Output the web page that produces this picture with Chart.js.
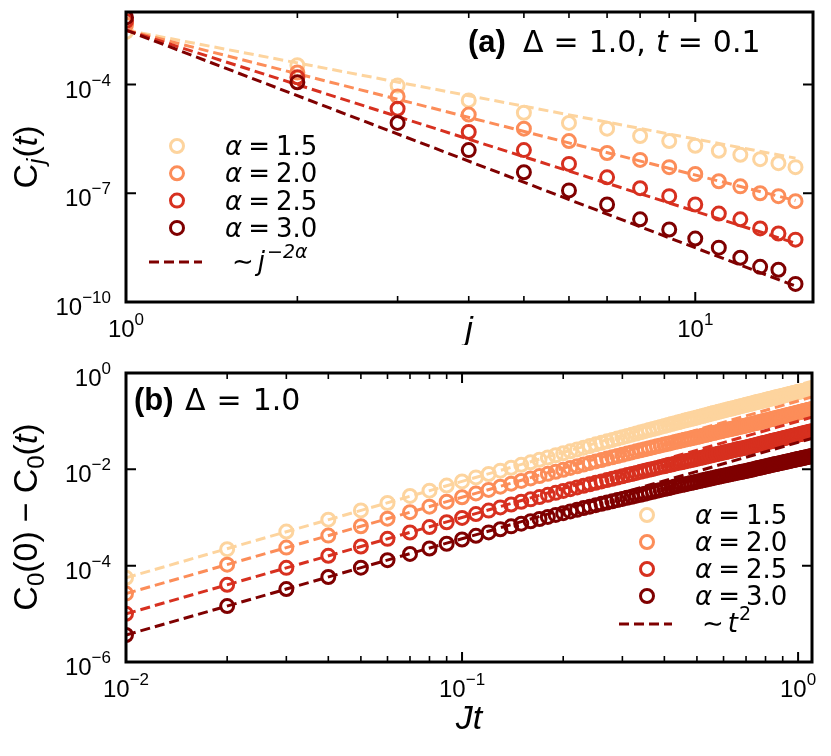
<!DOCTYPE html>
<html>
<head>
<meta charset="utf-8">
<script src="https://cdn.jsdelivr.net/npm/chart.js@4.4.1/dist/chart.umd.min.js"></script>
<style>
    html, body { margin: 0; padding: 0; background: #fff; }
    #wrap { position: relative; width: 831px; height: 756px; }
    #wrap canvas { position: absolute; left: 0; }
</style>
</head>
<body>
<div id="wrap">
    <canvas id="chartA" width="831" height="345" style="top:0;width:831px;height:345px"></canvas>
    <canvas id="chartB" width="831" height="411" style="top:345px;width:831px;height:411px"></canvas>
</div>
<script>
const seriesColors = ['#fdd49e', '#fc8d59', '#d7301f', '#7f0000'];
const alphaLabels = ['1.5', '2.0', '2.5', '3.0'];

// Panel (a): C_j(t) against site distance j
const siteJ = [1, 2, 3, 4, 5, 6, 7, 8, 9, 10, 11, 12, 13, 14, 15];
const corrA15 = [2.82e-3, 3.39e-4, 9.33e-5, 3.63e-5, 1.66e-5, 8.71e-6, 6.03e-6, 3.80e-6, 2.75e-6, 2.04e-6, 1.48e-6, 1.15e-6, 8.71e-7, 6.76e-7, 5.25e-7];
const corrA20 = [4.47e-3, 2.14e-4, 4.68e-5, 1.48e-5, 6.03e-6, 2.75e-6, 1.29e-6, 8.32e-7, 5.25e-7, 3.39e-7, 2.14e-7, 1.55e-7, 1.00e-7, 8.32e-8, 6.03e-8];
const corrA25 = [5.62e-3, 1.58e-4, 2.14e-5, 4.90e-6, 1.55e-6, 6.46e-7, 2.75e-7, 1.38e-7, 8.32e-8, 4.90e-8, 2.75e-8, 1.91e-8, 1.07e-8, 7.76e-9, 5.25e-9];
const corrA30 = [7.08e-3, 1.15e-4, 8.71e-6, 1.55e-6, 3.80e-7, 1.20e-7, 4.90e-8, 1.91e-8, 1.00e-8, 5.62e-9, 3.16e-9, 1.66e-9, 9.33e-10, 7.76e-10, 3.16e-10];
const fitJ = [1, 15];
const fitA15 = [3.16e-3, 9.3e-7];
const fitA20 = [3.16e-3, 6.3e-8];
const fitA25 = [3.16e-3, 4.2e-9];
const fitA30 = [3.16e-3, 2.75e-10];

// Panel (b): C_0(0) - C_0(t) against Jt
const timeT = [
    0.01, 0.02, 0.03, 0.04, 0.05, 0.06, 0.07, 0.08, 0.09, 0.10,
    0.11, 0.12, 0.13, 0.14, 0.15, 0.16, 0.17, 0.18, 0.19, 0.20,
    0.21, 0.22, 0.23, 0.24, 0.25, 0.26, 0.27, 0.28, 0.29, 0.30,
    0.31, 0.32, 0.33, 0.34, 0.35, 0.36, 0.37, 0.38, 0.39, 0.40,
    0.41, 0.42, 0.43, 0.44, 0.45, 0.46, 0.47, 0.48, 0.49, 0.50,
    0.51, 0.52, 0.53, 0.54, 0.55, 0.56, 0.57, 0.58, 0.59, 0.60,
    0.61, 0.62, 0.63, 0.64, 0.65, 0.66, 0.67, 0.68, 0.69, 0.70,
    0.71, 0.72, 0.73, 0.74, 0.75, 0.76, 0.77, 0.78, 0.79, 0.80,
    0.81, 0.82, 0.83, 0.84, 0.85, 0.86, 0.87, 0.88, 0.89, 0.90,
    0.91, 0.92, 0.93, 0.94, 0.95, 0.96, 0.97, 0.98, 0.99, 1.00,
    1.01, 1.02, 1.03, 1.04, 1.05, 1.06, 1.07, 1.08, 1.09, 1.10
];
const decayB15 = [
    5.6e-5, 2.2e-4, 5.1e-4, 9.0e-4, 1.4e-3, 2.0e-3, 2.8e-3, 3.6e-3, 4.6e-3, 5.6e-3,
    6.8e-3, 8.0e-3, 9.4e-3, 0.0108, 0.0124, 0.0140, 0.0158, 0.0176, 0.0196, 0.0216,
    0.0237, 0.0259, 0.0282, 0.0305, 0.0330, 0.0355, 0.0381, 0.0408, 0.0436, 0.0465,
    0.0494, 0.0524, 0.0555, 0.0587, 0.0620, 0.0653, 0.0687, 0.0722, 0.0758, 0.0794,
    0.0831, 0.0869, 0.0907, 0.0947, 0.0987, 0.103, 0.107, 0.111, 0.115, 0.119,
    0.124, 0.128, 0.133, 0.137, 0.142, 0.147, 0.151, 0.156, 0.161, 0.166,
    0.171, 0.176, 0.181, 0.186, 0.191, 0.196, 0.202, 0.207, 0.212, 0.218,
    0.223, 0.229, 0.234, 0.240, 0.246, 0.252, 0.257, 0.263, 0.269, 0.275,
    0.281, 0.287, 0.293, 0.299, 0.306, 0.312, 0.318, 0.324, 0.331, 0.337,
    0.343, 0.350, 0.356, 0.363, 0.369, 0.376, 0.382, 0.389, 0.395, 0.402,
    0.409, 0.415, 0.422, 0.429, 0.435, 0.442, 0.449, 0.456, 0.462, 0.469
];
const decayB20 = [
    2.63e-5, 1.05e-4, 2.37e-4, 4.21e-4, 6.58e-4, 9.47e-4, 1.29e-3, 1.68e-3, 2.13e-3, 2.63e-3,
    3.16e-3, 3.74e-3, 4.36e-3, 5.03e-3, 5.74e-3, 6.48e-3, 7.25e-3, 8.06e-3, 8.91e-3, 9.78e-3,
    0.0107, 0.0116, 0.0126, 0.0136, 0.0146, 0.0156, 0.0167, 0.0178, 0.0189, 0.0201,
    0.0212, 0.0224, 0.0236, 0.0249, 0.0261, 0.0274, 0.0287, 0.0300, 0.0313, 0.0327,
    0.0340, 0.0354, 0.0368, 0.0382, 0.0396, 0.0410, 0.0424, 0.0438, 0.0453, 0.0467,
    0.0483, 0.0499, 0.0516, 0.0532, 0.0549, 0.0566, 0.0583, 0.0600, 0.0617, 0.0634,
    0.0652, 0.0669, 0.0687, 0.0705, 0.0722, 0.0740, 0.0758, 0.0776, 0.0794, 0.0812,
    0.0833, 0.0854, 0.0875, 0.0896, 0.0917, 0.0939, 0.0961, 0.0983, 0.1005, 0.1027,
    0.1049, 0.1072, 0.1094, 0.1117, 0.1140, 0.1163, 0.1186, 0.1210, 0.1233, 0.1257,
    0.1282, 0.1307, 0.1332, 0.1357, 0.1383, 0.1408, 0.1434, 0.1460, 0.1486, 0.1512,
    0.1539, 0.1565, 0.1592, 0.1619, 0.1646, 0.1673, 0.1700, 0.1727, 0.1755, 0.1782
];
const decayB25 = [
    1.0e-5, 4.0e-5, 9.0e-5, 1.6e-4, 2.5e-4, 3.6e-4, 4.88e-4, 6.34e-4, 7.98e-4, 9.8e-4,
    1.18e-3, 1.39e-3, 1.62e-3, 1.86e-3, 2.12e-3, 2.38e-3, 2.66e-3, 2.95e-3, 3.25e-3, 3.56e-3,
    3.88e-3, 4.21e-3, 4.55e-3, 4.90e-3, 5.25e-3, 5.61e-3, 5.98e-3, 6.37e-3, 6.77e-3, 7.18e-3,
    7.59e-3, 8.01e-3, 8.44e-3, 8.87e-3, 9.31e-3, 9.76e-3, 0.0102, 0.0107, 0.0112, 0.0116,
    0.0121, 0.0126, 0.0131, 0.0136, 0.0140, 0.0145, 0.0150, 0.0155, 0.0160, 0.0165,
    0.0171, 0.0176, 0.0182, 0.0188, 0.0194, 0.0199, 0.0205, 0.0211, 0.0217, 0.0223,
    0.0229, 0.0235, 0.0241, 0.0247, 0.0254, 0.0260, 0.0266, 0.0272, 0.0278, 0.0284,
    0.0291, 0.0299, 0.0306, 0.0313, 0.0321, 0.0328, 0.0336, 0.0343, 0.0351, 0.0358,
    0.0366, 0.0374, 0.0382, 0.0390, 0.0397, 0.0405, 0.0413, 0.0421, 0.0429, 0.0437,
    0.0446, 0.0455, 0.0463, 0.0472, 0.0481, 0.0489, 0.0498, 0.0507, 0.0516, 0.0525,
    0.0534, 0.0543, 0.0552, 0.0561, 0.0571, 0.0580, 0.0589, 0.0598, 0.0608, 0.0617
];
const decayB30 = [
    3.63e-6, 1.45e-5, 3.27e-5, 5.81e-5, 9.08e-5, 1.30e-4, 1.75e-4, 2.27e-4, 2.85e-4, 3.49e-4,
    4.17e-4, 4.91e-4, 5.71e-4, 6.55e-4, 7.43e-4, 8.35e-4, 9.30e-4, 1.03e-3, 1.13e-3, 1.23e-3,
    1.34e-3, 1.45e-3, 1.57e-3, 1.68e-3, 1.80e-3, 1.92e-3, 2.04e-3, 2.17e-3, 2.30e-3, 2.43e-3,
    2.56e-3, 2.70e-3, 2.84e-3, 2.97e-3, 3.11e-3, 3.27e-3, 3.42e-3, 3.58e-3, 3.73e-3, 3.89e-3,
    4.05e-3, 4.21e-3, 4.38e-3, 4.54e-3, 4.71e-3, 4.87e-3, 5.04e-3, 5.20e-3, 5.37e-3, 5.54e-3,
    5.72e-3, 5.90e-3, 6.08e-3, 6.27e-3, 6.45e-3, 6.64e-3, 6.82e-3, 7.01e-3, 7.20e-3, 7.38e-3,
    7.57e-3, 7.76e-3, 7.95e-3, 8.13e-3, 8.32e-3, 8.51e-3, 8.69e-3, 8.88e-3, 9.07e-3, 9.25e-3,
    9.47e-3, 9.69e-3, 9.91e-3, 0.0101, 0.0104, 0.0106, 0.0108, 0.0110, 0.0113, 0.0115,
    0.0117, 0.0120, 0.0122, 0.0124, 0.0127, 0.0129, 0.0131, 0.0134, 0.0136, 0.0138,
    0.0141, 0.0143, 0.0146, 0.0148, 0.0151, 0.0153, 0.0156, 0.0158, 0.0161, 0.0163,
    0.0166, 0.0168, 0.0171, 0.0174, 0.0176, 0.0179, 0.0181, 0.0184, 0.0186, 0.0189
];
const fitT = [0.01, 1.1];
const fitB15 = [5.62e-5, 0.68];
const fitB20 = [2.63e-5, 0.318];
const fitB25 = [1.0e-5, 0.121];
const fitB30 = [3.63e-6, 0.0439];

// Axis ticks
const aXMajor = [1, 10];
const aXMinor = [2, 3, 4, 5, 6, 7, 8, 9];
const aYMajor = [1e-10, 1e-7, 1e-4];
const bXMajor = [0.01, 0.1, 1];
const bXMinor = [0.02, 0.03, 0.04, 0.05, 0.06, 0.07, 0.08, 0.09, 0.2, 0.3, 0.4, 0.5, 0.6, 0.7, 0.8, 0.9];
const bYMajor = [1e-6, 1e-4, 1e-2, 1];

const SANS = '"Liberation Sans", Arial, sans-serif';
const DEJAVU = '"DejaVu Sans", sans-serif';
const MARK_R = 6.5;
const MARK_W = 3;
const DASH = [10, 5];

function pointSeries(xs, ys, color, order) {
    return {
        data: xs.map((x, i) => ({ x, y: ys[i] })),
        showLine: false,
        pointStyle: 'circle',
        pointRadius: MARK_R,
        pointBorderWidth: MARK_W,
        pointBorderColor: color,
        pointBackgroundColor: 'rgba(0,0,0,0)',
        clip: 0,
        order
    };
}

function fitSeries(xs, ys, color, order) {
    return {
        data: xs.map((x, i) => ({ x, y: ys[i] })),
        showLine: true,
        borderColor: color,
        borderWidth: 3,
        borderDash: DASH,
        pointRadius: 0,
        fill: false,
        clip: 0,
        order
    };
}

// Draws a row of text pieces; each piece may carry its own font and offset
function drawRuns(ctx, runs, x, y, align) {
    let width = 0;
    runs.forEach(r => {
        ctx.font = r.font;
        width += ctx.measureText(r.text).width + (r.gap || 0);
    });
    let cx = align === 'right' ? x - width : align === 'center' ? x - width / 2 : x;
    ctx.textAlign = 'left';
    ctx.textBaseline = 'alphabetic';
    runs.forEach(r => {
        ctx.font = r.font;
        ctx.fillText(r.text, cx, y + (r.dy || 0));
        cx += ctx.measureText(r.text).width + (r.gap || 0);
    });
}

function powerRuns(value) {
    const exp = Math.round(Math.log10(value));
    const expText = exp < 0 ? '\u2212' + Math.abs(exp) : String(exp);
    return [
        { text: '10', font: '24px ' + SANS },
        { text: expText, font: '17px ' + SANS, dy: -12 }
    ];
}

function drawFrame(chart, xMajor, xMinor, yMajor) {
    const { ctx, chartArea: area, scales } = chart;
    const inside = (p, lo, hi) => p > lo + 2 && p < hi - 2;

    ctx.strokeStyle = '#000';
    ctx.lineCap = 'butt';
    const tick = (list, len, width) => {
        ctx.lineWidth = width;
        list.forEach(v => {
            const px = scales.x.getPixelForValue(v);
            if (!inside(px, area.left, area.right)) return;
            ctx.beginPath();
            ctx.moveTo(px, area.bottom);
            ctx.lineTo(px, area.bottom - len);
            ctx.moveTo(px, area.top);
            ctx.lineTo(px, area.top + len);
            ctx.stroke();
        });
    };
    tick(xMajor, 10, 2);
    tick(xMinor, 6, 1.6);

    ctx.lineWidth = 2;
    yMajor.forEach(v => {
        const py = scales.y.getPixelForValue(v);
        if (!inside(py, area.top, area.bottom)) return;
        ctx.beginPath();
        ctx.moveTo(area.left, py);
        ctx.lineTo(area.left + 10, py);
        ctx.moveTo(area.right, py);
        ctx.lineTo(area.right - 10, py);
        ctx.stroke();
    });

    ctx.lineWidth = 3;
    ctx.strokeRect(area.left, area.top, area.right - area.left, area.bottom - area.top);

    ctx.fillStyle = '#000';
    xMajor.forEach(v => {
        drawRuns(ctx, powerRuns(v), scales.x.getPixelForValue(v), area.bottom + 35, 'center');
    });
    yMajor.forEach(v => {
        drawRuns(ctx, powerRuns(v), 111, scales.y.getPixelForValue(v) + 13, 'right');
    });
}

function drawLegend(ctx, x, y0, step, lineY, lineLabel) {
    seriesColors.forEach((color, i) => {
        const y = y0 + i * step;
        ctx.beginPath();
        ctx.arc(x, y, MARK_R, 0, Math.PI * 2);
        ctx.lineWidth = MARK_W;
        ctx.strokeStyle = color;
        ctx.stroke();
        ctx.fillStyle = '#000';
        drawRuns(ctx, [
            { text: '\u03b1', font: 'italic 26px ' + DEJAVU, gap: 6 },
            { text: '=', font: '26px ' + DEJAVU, gap: 6 },
            { text: alphaLabels[i], font: '26px ' + DEJAVU }
        ], x + 48, y + 9, 'left');
    });
    ctx.beginPath();
    ctx.setLineDash(DASH);
    ctx.strokeStyle = seriesColors[3];
    ctx.lineWidth = 3;
    ctx.moveTo(x - 28, lineY);
    ctx.lineTo(x + 25, lineY);
    ctx.stroke();
    ctx.setLineDash([]);
    ctx.fillStyle = '#000';
    drawRuns(ctx, lineLabel, x + 55, lineY + 8, 'left');
}

function drawRotated(ctx, runs, x, y) {
    ctx.save();
    ctx.translate(x, y);
    ctx.rotate(-Math.PI / 2);
    drawRuns(ctx, runs, 0, 0, 'center');
    ctx.restore();
}

const panelA = {
    id: 'panelA',
    afterDraw(chart) {
        const ctx = chart.ctx;
        ctx.save();
        drawFrame(chart, aXMajor, aXMinor, aYMajor);

        ctx.fillStyle = '#000';
        drawRuns(ctx, [{ text: 'j', font: 'italic 34px ' + SANS }], 469, 340, 'center');
        drawRotated(ctx, [
            { text: 'C', font: '34px ' + SANS },
            { text: 'j', font: 'italic 24px ' + SANS, dy: 7, gap: 1 },
            { text: '(', font: '34px ' + SANS },
            { text: 't', font: 'italic 34px ' + SANS },
            { text: ')', font: '34px ' + SANS }
        ], 37, 157);

        drawRuns(ctx, [{ text: '(a)', font: 'bold 31px ' + SANS }], 468, 52, 'left');
        drawRuns(ctx, [
            { text: '\u0394', font: '30px ' + DEJAVU, gap: 10 },
            { text: '=', font: '30px ' + DEJAVU, gap: 10 },
            { text: '1.0,', font: '30px ' + DEJAVU, gap: 10 },
            { text: 't', font: 'italic 30px ' + DEJAVU, gap: 10 },
            { text: '=', font: '30px ' + DEJAVU, gap: 10 },
            { text: '0.1', font: '30px ' + DEJAVU }
        ], 523, 52, 'left');

        drawLegend(ctx, 177, 146, 27.3, 262, [
            { text: '\u223c', font: '26px ' + DEJAVU, gap: 4 },
            { text: 'j', font: 'italic 26px ' + DEJAVU, gap: 2 },
            { text: '\u22122\u03b1', font: 'italic 19px ' + DEJAVU, dy: -12 }
        ]);
        ctx.restore();
    }
};

const panelB = {
    id: 'panelB',
    afterDraw(chart) {
        const ctx = chart.ctx;
        ctx.save();
        drawFrame(chart, bXMajor, bXMinor, bYMajor);

        ctx.fillStyle = '#000';
        drawRuns(ctx, [
            { text: 'J', font: 'italic 34px ' + SANS },
            { text: 't', font: 'italic 34px ' + SANS }
        ], 469, 384, 'center');
        drawRotated(ctx, [
            { text: 'C', font: '34px ' + SANS },
            { text: '0', font: '24px ' + SANS, dy: 7 },
            { text: '(0)', font: '34px ' + SANS, gap: 9 },
            { text: '\u2212', font: '34px ' + SANS, gap: 9 },
            { text: 'C', font: '34px ' + SANS },
            { text: '0', font: '24px ' + SANS, dy: 7 },
            { text: '(', font: '34px ' + SANS },
            { text: 't', font: 'italic 34px ' + SANS },
            { text: ')', font: '34px ' + SANS }
        ], 37, 172);

        drawRuns(ctx, [{ text: '(b)', font: 'bold 31px ' + SANS }], 134, 65, 'left');
        drawRuns(ctx, [
            { text: '\u0394', font: '30px ' + DEJAVU, gap: 11 },
            { text: '=', font: '30px ' + DEJAVU, gap: 11 },
            { text: '1.0', font: '30px ' + DEJAVU }
        ], 185, 65, 'left');

        drawLegend(ctx, 647, 170, 27, 279, [
            { text: '\u223c', font: '26px ' + DEJAVU, gap: 4 },
            { text: 't', font: 'italic 26px ' + DEJAVU, gap: 1 },
            { text: '2', font: '19px ' + DEJAVU, dy: -12 }
        ]);
        ctx.restore();
    }
};

function baseOptions(padding, xRange, yRange) {
    return {
        responsive: false,
        animation: false,
        events: [],
        layout: { padding },
        plugins: { legend: { display: false }, tooltip: { enabled: false } },
        scales: {
            x: { type: 'logarithmic', min: xRange[0], max: xRange[1], display: false },
            y: { type: 'logarithmic', min: yRange[0], max: yRange[1], display: false }
        }
    };
}

const corrA = [corrA15, corrA20, corrA25, corrA30];
const fitsA = [fitA15, fitA20, fitA25, fitA30];
const decayB = [decayB15, decayB20, decayB25, decayB30];
const fitsB = [fitB15, fitB20, fitB25, fitB30];

const datasetsA = [];
const datasetsB = [];
seriesColors.forEach((color, i) => {
    datasetsA.push(pointSeries(siteJ, corrA[i], color, 10 - 2 * i));
    datasetsA.push(fitSeries(fitJ, fitsA[i], color, 9 - 2 * i));
    datasetsB.push(pointSeries(timeT, decayB[i], color, 10 - 2 * i));
    datasetsB.push(fitSeries(fitT, fitsB[i], color, 9 - 2 * i));
});

new Chart(document.getElementById('chartA'), {
    type: 'scatter',
    data: { datasets: datasetsA },
    options: baseOptions({ left: 126, right: 18, top: 12, bottom: 43 }, [1, 16.1], [1e-10, 1e-2]),
    plugins: [panelA]
});

new Chart(document.getElementById('chartB'), {
    type: 'scatter',
    data: { datasets: datasetsB },
    options: baseOptions({ left: 126, right: 19, top: 28, bottom: 94 }, [0.01, 1.1], [1e-6, 1]),
    plugins: [panelB]
});
</script>
</body>
</html>
